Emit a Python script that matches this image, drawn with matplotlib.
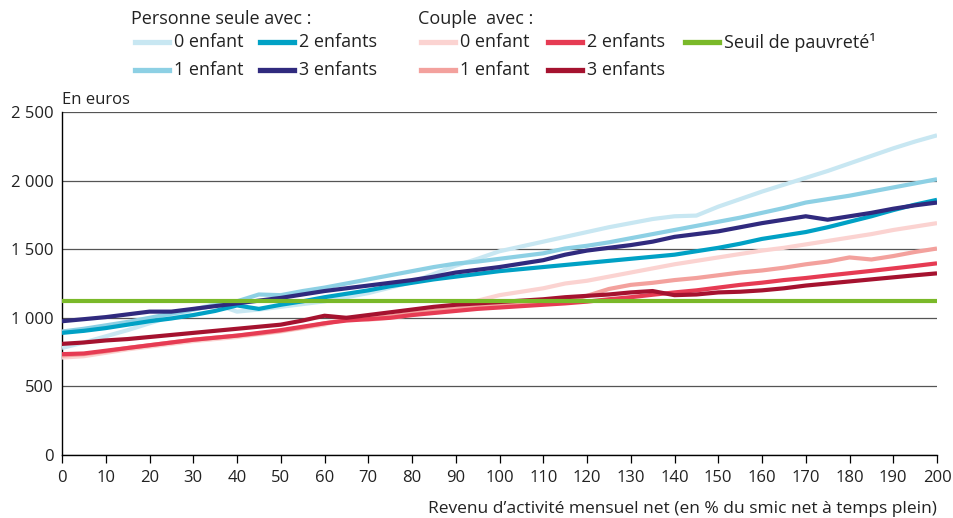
import matplotlib
matplotlib.use("Agg")
import matplotlib.pyplot as plt
from matplotlib.lines import Line2D
from matplotlib.ticker import FuncFormatter, MultipleLocator

plt.rcParams['font.family'] = ['Open Sans', 'DejaVu Sans']

x = list(range(0, 201, 5))

seule_0 = [780, 820, 865, 910, 960, 1010, 1060, 1100, 1045, 1060, 1080, 1100, 1120, 1150, 1180, 1220,
           1260, 1320, 1380, 1430, 1485, 1520, 1555, 1590, 1625, 1660, 1690, 1720, 1740, 1745, 1810,
           1865, 1920, 1970, 2020, 2070, 2125, 2180, 2235, 2285, 2330]
seule_1 = [900, 920, 945, 970, 1000, 1030, 1060, 1090, 1120, 1170, 1165, 1195, 1220, 1250, 1280, 1310,
           1340, 1370, 1395, 1410, 1430, 1450, 1470, 1505, 1525, 1550, 1580, 1610, 1640, 1670, 1700,
           1730, 1765, 1800, 1840, 1865, 1890, 1920, 1950, 1980, 2010]
seule_2 = [890, 905, 925, 950, 975, 995, 1020, 1050, 1090, 1065, 1095, 1120, 1150, 1175, 1200, 1230,
           1255, 1280, 1300, 1320, 1340, 1355, 1370, 1385, 1400, 1415, 1430, 1445, 1460, 1485, 1510,
           1540, 1575, 1600, 1625, 1660, 1700, 1740, 1785, 1825, 1860]
seule_3 = [975, 990, 1005, 1025, 1045, 1045, 1065, 1085, 1105, 1125, 1145, 1170, 1195, 1215, 1235, 1255,
           1275, 1300, 1330, 1350, 1370, 1395, 1420, 1460, 1490, 1510, 1530, 1555, 1590, 1610, 1630,
           1660, 1690, 1715, 1740, 1715, 1740, 1765, 1795, 1820, 1840]
couple_0 = [710, 720, 745, 770, 790, 810, 830, 845, 860, 880, 900, 925, 950, 1000, 985, 1000,
            1020, 1045, 1080, 1125, 1165, 1190, 1215, 1250, 1270, 1300, 1330, 1360, 1390, 1415, 1440,
            1465, 1490, 1510, 1535, 1560, 1585, 1610, 1640, 1665, 1690]
couple_1 = [725, 735, 755, 780, 800, 820, 840, 855, 870, 885, 905, 930, 960, 985, 995, 1010,
            1035, 1050, 1065, 1080, 1090, 1100, 1110, 1125, 1160, 1210, 1240, 1255, 1275, 1290, 1310,
            1330, 1345, 1365, 1390, 1410, 1440, 1425, 1450, 1480, 1505]
couple_2 = [735, 740, 760, 780, 800, 820, 840, 855, 870, 890, 910, 935, 960, 980, 990, 1000,
            1020, 1035, 1050, 1065, 1075, 1085, 1095, 1105, 1118, 1135, 1150, 1168, 1185, 1200, 1220,
            1240, 1256, 1275, 1290, 1308, 1325, 1342, 1360, 1378, 1397]
couple_3 = [810, 820, 835, 845, 860, 875, 890, 905, 920, 935, 950, 980, 1015, 1000, 1020, 1040,
            1060, 1080, 1095, 1105, 1115, 1125, 1135, 1150, 1160, 1170, 1185, 1195, 1165, 1170, 1185,
            1190, 1200, 1215, 1235, 1250, 1265, 1280, 1295, 1310, 1324]
seuil_x = [0, 200]
seuil = [1125, 1125]

labels_seule = ["0 enfant", "1 enfant", "2 enfants", "3 enfants"]
labels_couple = ["0 enfant", "1 enfant", "2 enfants", "3 enfants"]
label_seuil = "Seuil de pauvreté¹"

col_seule = ["#c8e7f2", "#8dd0e4", "#00a1c5", "#302a7e"]
col_couple = ["#fbd3d1", "#f3a19d", "#e63b53", "#a5122f"]
col_seuil = "#7ab929"
txt = '#222222'

W, H = 954, 518
fig = plt.figure(figsize=(W / 100, H / 100), dpi=100)
L, R, T, B = 62, 937, 112, 455
ax = fig.add_axes([L / W, 1 - B / H, (R - L) / W, (B - T) / H])

lw = 3.0
for ys, c in zip([seule_0, seule_1, seule_2, seule_3], col_seule):
    ax.plot(x, ys, color=c, lw=lw, solid_capstyle='butt', zorder=3)
for ys, c in zip([couple_0, couple_1, couple_2, couple_3], col_couple):
    ax.plot(x, ys, color=c, lw=lw, solid_capstyle='butt', zorder=3)
ax.plot(seuil_x, seuil, color=col_seuil, lw=lw, solid_capstyle='butt', zorder=4)

ax.set_xlim(0, 200)
ax.set_ylim(0, 2500)
ax.xaxis.set_major_locator(MultipleLocator(10))
ax.yaxis.set_major_locator(MultipleLocator(500))
ax.yaxis.set_major_formatter(FuncFormatter(lambda v, p: f"{int(v):,}".replace(",", " ")))
for s in ['top', 'right']:
    ax.spines[s].set_visible(False)
for s in ['left', 'bottom']:
    ax.spines[s].set_color('black')
    ax.spines[s].set_linewidth(1.0)
ax.grid(axis='y', color='#555555', lw=0.9, zorder=1)
ax.set_axisbelow(True)
ax.tick_params(axis='y', length=0, pad=6, labelsize=12, colors=txt)
ax.tick_params(axis='x', length=6, width=0.9, pad=5, labelsize=12, colors=txt)
ax.tick_params(axis='x', color='black')

fig.text(L / W, 1 - 100 / H, "En euros", fontsize=12, ha='left', va='center', color=txt)
fig.text(R / W, 1 - 509 / H, "Revenu d\u2019activité mensuel net (en % du smic net à temps plein)",
         fontsize=12.5, ha='right', va='center', color=txt)

# legend
FS = 13.0
def key(x0, y, color, text):
    fig.add_artist(Line2D([x0 / W, (x0 + 34) / W], [1 - y / H, 1 - y / H], color=color, lw=3.8,
                          transform=fig.transFigure))
    fig.text((x0 + 39) / W, 1 - y / H, text, fontsize=FS, ha='left', va='center', color=txt)

fig.text(131 / W, 1 - 19 / H, "Personne seule avec :", fontsize=FS, ha='left', va='center', color=txt)
fig.text(418 / W, 1 - 19 / H, "Couple  avec :", fontsize=FS, ha='left', va='center', color=txt)
r1, r2 = 42, 70
key(135, r1, col_seule[0], labels_seule[0])
key(135, r2, col_seule[1], labels_seule[1])
key(260, r1, col_seule[2], labels_seule[2])
key(260, r2, col_seule[3], labels_seule[3])
key(421, r1, col_couple[0], labels_couple[0])
key(421, r2, col_couple[1], labels_couple[1])
key(548, r1, col_couple[2], labels_couple[2])
key(548, r2, col_couple[3], labels_couple[3])
key(685, r1, col_seuil, label_seuil)

fig.savefig("out.png", dpi=100)
